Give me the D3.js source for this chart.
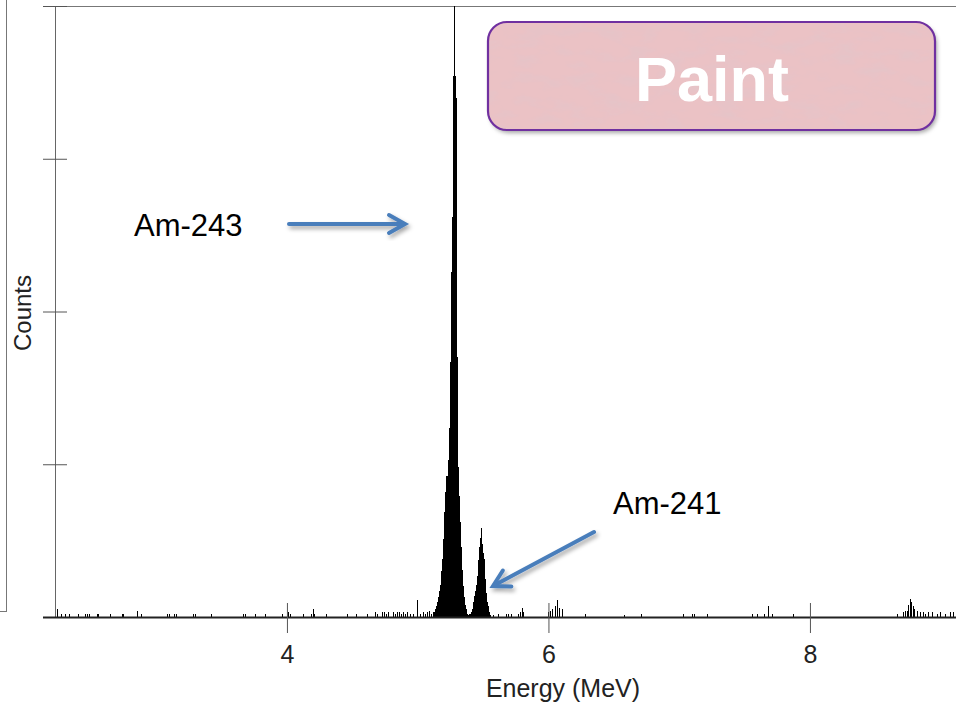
<!DOCTYPE html>
<html>
<head>
<meta charset="utf-8">
<script src="https://cdn.jsdelivr.net/npm/d3@7"></script>
<style>
  html, body { margin: 0; padding: 0; background: #fff; }
  svg { display: block; font-family: "Liberation Sans", Arial, sans-serif; }
</style>
</head>
<body>
<svg id="chart" width="956" height="705"></svg>
<script>
// Alpha spectrum: contiguous bins across the Am-243 / Am-241 peaks
const peakStart = 5.10;       // MeV, left edge of first peak bin
const binWidth = 0.008;       // MeV
const peakCounts = [
  2, 0, 3, 3, 5, 7, 10, 13, 17, 21, 30, 38, 51, 69, 82, 92, 103, 124, 167, 226,
  262, 354, 458, 354, 340, 170, 98, 79, 62, 46, 31, 20, 13, 8, 5, 2, 1, 2, 3, 5,
  10, 14, 17, 21, 27, 37, 46, 52, 58, 48, 42, 38, 25, 16, 10, 7, 3, 1
];

// Sparse background bins (energy in MeV, counts)
const spikeEnergy = [
  2.239, 2.272, 2.302, 2.333, 2.399, 2.455, 2.468, 2.488, 2.545, 2.557, 2.646, 2.736, 2.748,
  2.850, 2.883, 3.080, 3.100, 3.138, 3.149, 3.283, 3.296, 3.419, 3.666, 3.679,
  3.755, 3.832, 3.959, 4.010, 4.023, 4.125, 4.184, 4.201, 4.209, 4.298, 4.457, 4.528, 4.610,
  4.673, 4.686, 4.724, 4.742, 4.757, 4.772, 4.811, 4.826, 4.841, 4.857, 4.872, 4.887, 4.902,
  4.918, 4.941, 4.964, 4.992, 5.017, 5.040, 5.055, 5.071, 5.086,
  5.576, 5.616, 5.675, 5.690, 5.713, 5.767, 5.782, 5.795, 5.805,
  5.998, 6.011, 6.027, 6.047, 6.067, 6.083, 6.101, 6.279, 6.577, 6.707, 7.029, 7.095, 7.113, 7.210,
  7.554, 7.592, 7.651, 7.681, 7.707, 7.872,
  8.663, 8.711, 8.727, 8.742, 8.753, 8.765, 8.776, 8.788, 8.799, 8.816, 8.841, 8.864, 8.880,
  8.902, 8.931, 8.969, 8.994, 9.033, 9.071, 9.096
];
const spikeCounts = [
  5, 2, 2, 2, 2, 2, 2, 2, 2, 2, 2, 2, 2,
  4, 2, 2, 2, 2, 2, 2, 2, 2, 2, 2,
  2, 2, 2, 3, 2, 2, 2, 5, 2, 2, 2, 2, 2,
  3, 2, 3, 3, 2, 3, 3, 2, 3, 3, 2, 3, 2,
  3, 2, 2, 11, 2, 3, 2, 3, 4,
  1, 2, 2, 2, 2, 2, 3, 6, 3,
  3, 4, 5, 7, 11, 6, 5, 2, 1, 2, 2, 2, 2, 2,
  2, 2, 2, 7, 2, 2,
  2, 3, 4, 4, 8, 12, 10, 7, 5, 4, 3, 3, 2,
  3, 3, 2, 3, 2, 3, 3
];

const xDomain = [2.226, 9.117];
const yDomain = [0, 400];
const xTicks = [4, 6, 8];
const yTicks = [0, 100, 200, 300, 400];
const xTitle = "Energy (MeV)";
const yTitle = "Counts";
const peakLabels = ["Am-243", "Am-241"];
const badgeText = "Paint";

// Build bin table
const bins = peakCounts.map((c, i) => ({ e: peakStart + i * binWidth, c }))
  .concat(spikeEnergy.map((e, i) => ({ e, c: spikeCounts[i] })));

const svg = d3.select("#chart");
const plotLeft = 55, plotRight = 956, plotTop = 6, plotBottom = 617;

const x = d3.scaleLinear().domain(xDomain).range([plotLeft, plotRight]);
const y = d3.scaleLinear().domain(yDomain).range([plotBottom, plotTop]);

const defs = svg.append("defs");
defs.append("clipPath").attr("id", "plot-clip")
  .append("rect").attr("x", plotLeft).attr("y", plotTop)
  .attr("width", plotRight - plotLeft).attr("height", plotBottom - plotTop);

const shadow = defs.append("filter").attr("id", "soft-shadow")
  .attr("x", "-20%").attr("y", "-20%").attr("width", "140%").attr("height", "160%");
shadow.append("feDropShadow").attr("dx", 2).attr("dy", 3).attr("stdDeviation", 2)
  .attr("flood-color", "#000").attr("flood-opacity", 0.35);

const marble = defs.append("filter").attr("id", "marble")
  .attr("x", 0).attr("y", 0).attr("width", 1).attr("height", 1);
marble.append("feTurbulence").attr("type", "fractalNoise")
  .attr("baseFrequency", "0.035 0.08").attr("numOctaves", 4).attr("seed", 7).attr("result", "noise");
marble.append("feColorMatrix").attr("in", "noise").attr("type", "matrix")
  .attr("values", "0 0 0 0 0.78  0 0 0 0 0.55  0 0 0 0 0.58  2.2 0 0 0 -0.95")
  .attr("result", "spots");
marble.append("feComposite").attr("in", "spots").attr("in2", "SourceGraphic").attr("operator", "atop");

// Neighbouring panel edge on the far left
svg.append("line").attr("x1", 6.5).attr("x2", 6.5).attr("y1", 0).attr("y2", 612)
  .attr("stroke", "#777").attr("stroke-width", 1);
svg.append("line").attr("x1", 0).attr("x2", 7).attr("y1", 611.5).attr("y2", 611.5)
  .attr("stroke", "#777").attr("stroke-width", 1);

// Frame top line
svg.append("line").attr("x1", 43).attr("x2", plotRight).attr("y1", plotTop + 0.5).attr("y2", plotTop + 0.5)
  .attr("stroke", "#777").attr("stroke-width", 1);

// Spectrum bars
svg.append("g").attr("clip-path", "url(#plot-clip)")
  .selectAll("rect").data(bins).join("rect")
  .attr("x", d => x(d.e))
  .attr("width", d => Math.max(1, x(d.e + binWidth) - x(d.e)))
  .attr("y", d => y(d.c))
  .attr("height", d => y(0) - y(d.c))
  .attr("fill", "#000")
  .attr("shape-rendering", "crispEdges");

// Y axis (unlabelled ticks crossing the axis line)
const yAxis = svg.append("g").attr("transform", `translate(${plotLeft},0)`)
  .call(d3.axisLeft(y).tickValues(yTicks).tickSizeOuter(0).tickSizeInner(12).tickFormat(""));
yAxis.select(".domain").attr("stroke", "#666");
yAxis.selectAll(".tick line").attr("x2", -12).attr("x1", 12).attr("stroke", "#555");

// X axis
const xAxis = svg.append("g").attr("transform", `translate(0,${plotBottom})`)
  .call(d3.axisBottom(x).tickValues(xTicks).tickFormat(d3.format("d"))
    .tickSizeOuter(0).tickSizeInner(16).tickPadding(12));
xAxis.select(".domain").attr("stroke", "#222").attr("stroke-width", 2)
  .attr("d", `M${43},0.5H${plotRight}`);
xAxis.selectAll(".tick line").attr("y1", -14).attr("y2", 16).attr("stroke", "#555");
xAxis.selectAll(".tick text")
  .attr("font-size", 25).attr("fill", "#222").attr("dy", null).attr("y", 46)
  .style("font-family", "'Liberation Sans', Arial, sans-serif");

// Axis titles
svg.append("text").attr("x", 563).attr("y", 697).attr("text-anchor", "middle")
  .attr("font-size", 25).attr("fill", "#222").text(xTitle);
svg.append("text").attr("transform", "translate(31,313) rotate(-90)").attr("text-anchor", "middle")
  .attr("font-size", 24).attr("fill", "#222").text(yTitle);

// Peak annotations with arrows
function arrow(x1, y1, x2, y2) {
  const dx = x2 - x1, dy = y2 - y1, len = Math.hypot(dx, dy);
  const ux = dx / len, uy = dy / len, px = -uy, py = ux;
  const back = 16, half = 9;
  const g = svg.append("g").attr("filter", "url(#soft-shadow)");
  g.append("line").attr("x1", x1).attr("y1", y1).attr("x2", x2 - ux * 2).attr("y2", y2 - uy * 2)
    .attr("stroke", "#4A7EBB").attr("stroke-width", 4).attr("stroke-linecap", "round");
  g.append("path")
    .attr("d", `M${x2 - ux * back + px * half},${y2 - uy * back + py * half}L${x2},${y2}L${x2 - ux * back - px * half},${y2 - uy * back - py * half}`)
    .attr("fill", "none").attr("stroke", "#4A7EBB").attr("stroke-width", 4)
    .attr("stroke-linecap", "round").attr("stroke-linejoin", "miter");
}
svg.append("text").attr("x", 134).attr("y", 236).attr("font-size", 31).attr("fill", "#000").text(peakLabels[0]);
arrow(289, 224, 405, 224);
svg.append("text").attr("x", 613).attr("y", 514).attr("font-size", 31).attr("fill", "#000").text(peakLabels[1]);
arrow(594, 532, 493, 586);

// Sample badge
const badge = svg.append("g");
badge.append("rect").attr("x", 488).attr("y", 22).attr("width", 447).attr("height", 108).attr("rx", 19)
  .attr("fill", "#E8BBBF").attr("filter", "url(#soft-shadow)");
badge.append("rect").attr("x", 488).attr("y", 22).attr("width", 447).attr("height", 108).attr("rx", 19)
  .attr("fill", "#EBC2C5").attr("filter", "url(#marble)");
badge.append("rect").attr("x", 488).attr("y", 22).attr("width", 447).attr("height", 108).attr("rx", 19)
  .attr("fill", "none").attr("stroke", "#7030A0").attr("stroke-width", 2.2);
badge.append("text").attr("x", 712).attr("y", 101).attr("text-anchor", "middle")
  .attr("font-size", 63).attr("font-weight", "bold").attr("fill", "#fff").text(badgeText);
</script>
</body>
</html>
